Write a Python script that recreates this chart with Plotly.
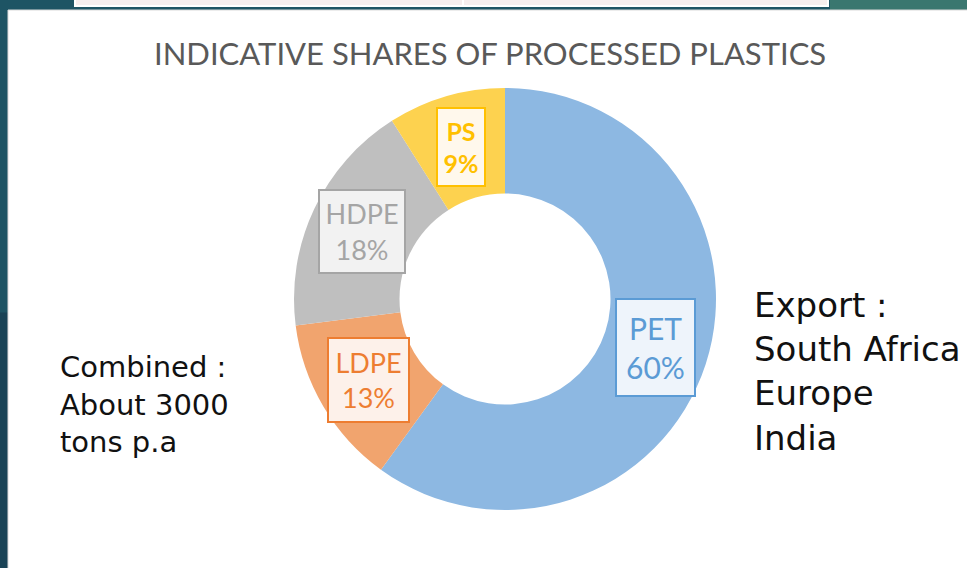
import numpy as np
import plotly.graph_objects as go

# data
materials = ["PET", "LDPE", "HDPE", "PS"]
shares = [60, 13, 18, 9]

title_text = "INDICATIVE SHARES OF PROCESSED PLASTICS"
combined_lines = ["Combined :", "About 3000", "tons p.a"]
export_lines = ["Export :", "South Africa", "Europe", "India"]

# styles
slice_colors = ["#8DB8E2", "#F1A46E", "#BFBFBF", "#FDD24F"]
text_colors = ["#5B9BD5", "#ED7D31", "#A5A5A5", "#FFC000"]
box_fills = ["#EEF4FB", "#FDF1EA", "#F2F2F2", "#FFF8EC"]
label_sizes = [30, 27, 27, 25]
box_sizes = [(81, 99), (83, 86), (88, 85), (50, 80)]

W, H = 967, 568
cx, cy, r_out, hole = 505, 299, 211, 0.5


def px(x):
    return x / W


def py(y):
    return 1 - y / H


fig = go.Figure(go.Pie(
    labels=materials,
    values=shares,
    sort=False,
    direction="clockwise",
    rotation=0,
    hole=hole,
    marker=dict(colors=slice_colors, line=dict(width=0)),
    textinfo="none",
    hoverinfo="label+percent",
    showlegend=False,
    domain=dict(x=[px(cx - r_out), px(cx + r_out)],
                y=[py(cy + r_out), py(cy - r_out)]),
))

# label boxes sit at mid-ring, on each slice's mid angle
total = float(sum(shares))
cum = np.cumsum([0] + shares[:-1]) / total
mid = (cum + np.array(shares) / total / 2) * 2 * np.pi
r_mid = r_out * (1 + hole) / 2
for i, name in enumerate(materials):
    lx = cx + r_mid * np.sin(mid[i])
    ly = cy - r_mid * np.cos(mid[i])
    bw, bh = box_sizes[i]
    fig.add_annotation(
        x=px(lx), y=py(ly), xref="paper", yref="paper",
        xanchor="center", yanchor="middle",
        text=f"{name}<br>{round(shares[i] / total * 100)}%",
        showarrow=False,
        font=dict(family="Lato, Noto Sans", size=label_sizes[i],
                  color=text_colors[i],
                  weight="bold" if name == "PS" else "normal"),
        width=bw - 6, height=bh - 6,
        bgcolor=box_fills[i], bordercolor=text_colors[i], borderwidth=2,
        borderpad=1,
    )

fig.add_annotation(
    x=px(490), y=py(53), xref="paper", yref="paper",
    xanchor="center", yanchor="middle",
    text=title_text, showarrow=False,
    font=dict(family="Lato, Noto Sans", size=31, color="#595959"),
)
fig.add_annotation(
    x=px(58), y=py(404), xref="paper", yref="paper",
    xanchor="left", yanchor="middle",
    text="<br>".join(combined_lines), showarrow=False, align="left",
    font=dict(family="DejaVu Sans", size=29, color="#111111"),
)
fig.add_annotation(
    x=px(752), y=py(371), xref="paper", yref="paper",
    xanchor="left", yanchor="middle",
    text="<br>".join(export_lines), showarrow=False, align="left",
    font=dict(family="DejaVu Sans", size=34, color="#111111"),
)

# slide frame: teal backdrop, white panel, strip of the box above
fig.update_layout(
    width=W, height=H,
    margin=dict(l=0, r=0, t=0, b=0),
    paper_bgcolor="#1E5464",
    plot_bgcolor="white",
    xaxis=dict(visible=False), yaxis=dict(visible=False),
    shapes=[
        dict(type="rect", xref="paper", yref="paper", layer="below",
             x0=0, x1=px(8), y0=0, y1=0.45,
             fillcolor="#1A4356", line=dict(width=0)),
        dict(type="rect", xref="paper", yref="paper", layer="below",
             x0=px(830), x1=1.0, y0=py(10), y1=1.0,
             fillcolor="#3A776F", line=dict(width=0)),
        dict(type="rect", xref="paper", yref="paper", layer="below",
             x0=px(8), x1=1.05, y0=-0.05, y1=py(10),
             fillcolor="white", line=dict(color="#D9D9D9", width=1)),
        dict(type="rect", xref="paper", yref="paper", layer="below",
             x0=px(75), x1=px(828), y0=py(6), y1=1.02,
             fillcolor="#F6EEEE", line=dict(color="white", width=2)),
        dict(type="line", xref="paper", yref="paper", layer="below",
             x0=px(463), x1=px(463), y0=py(6), y1=1.0,
             line=dict(color="white", width=2)),
    ],
)

fig.write_html("out.html", config={"displayModeBar": False},
               post_script="document.body.style.margin='0';")
